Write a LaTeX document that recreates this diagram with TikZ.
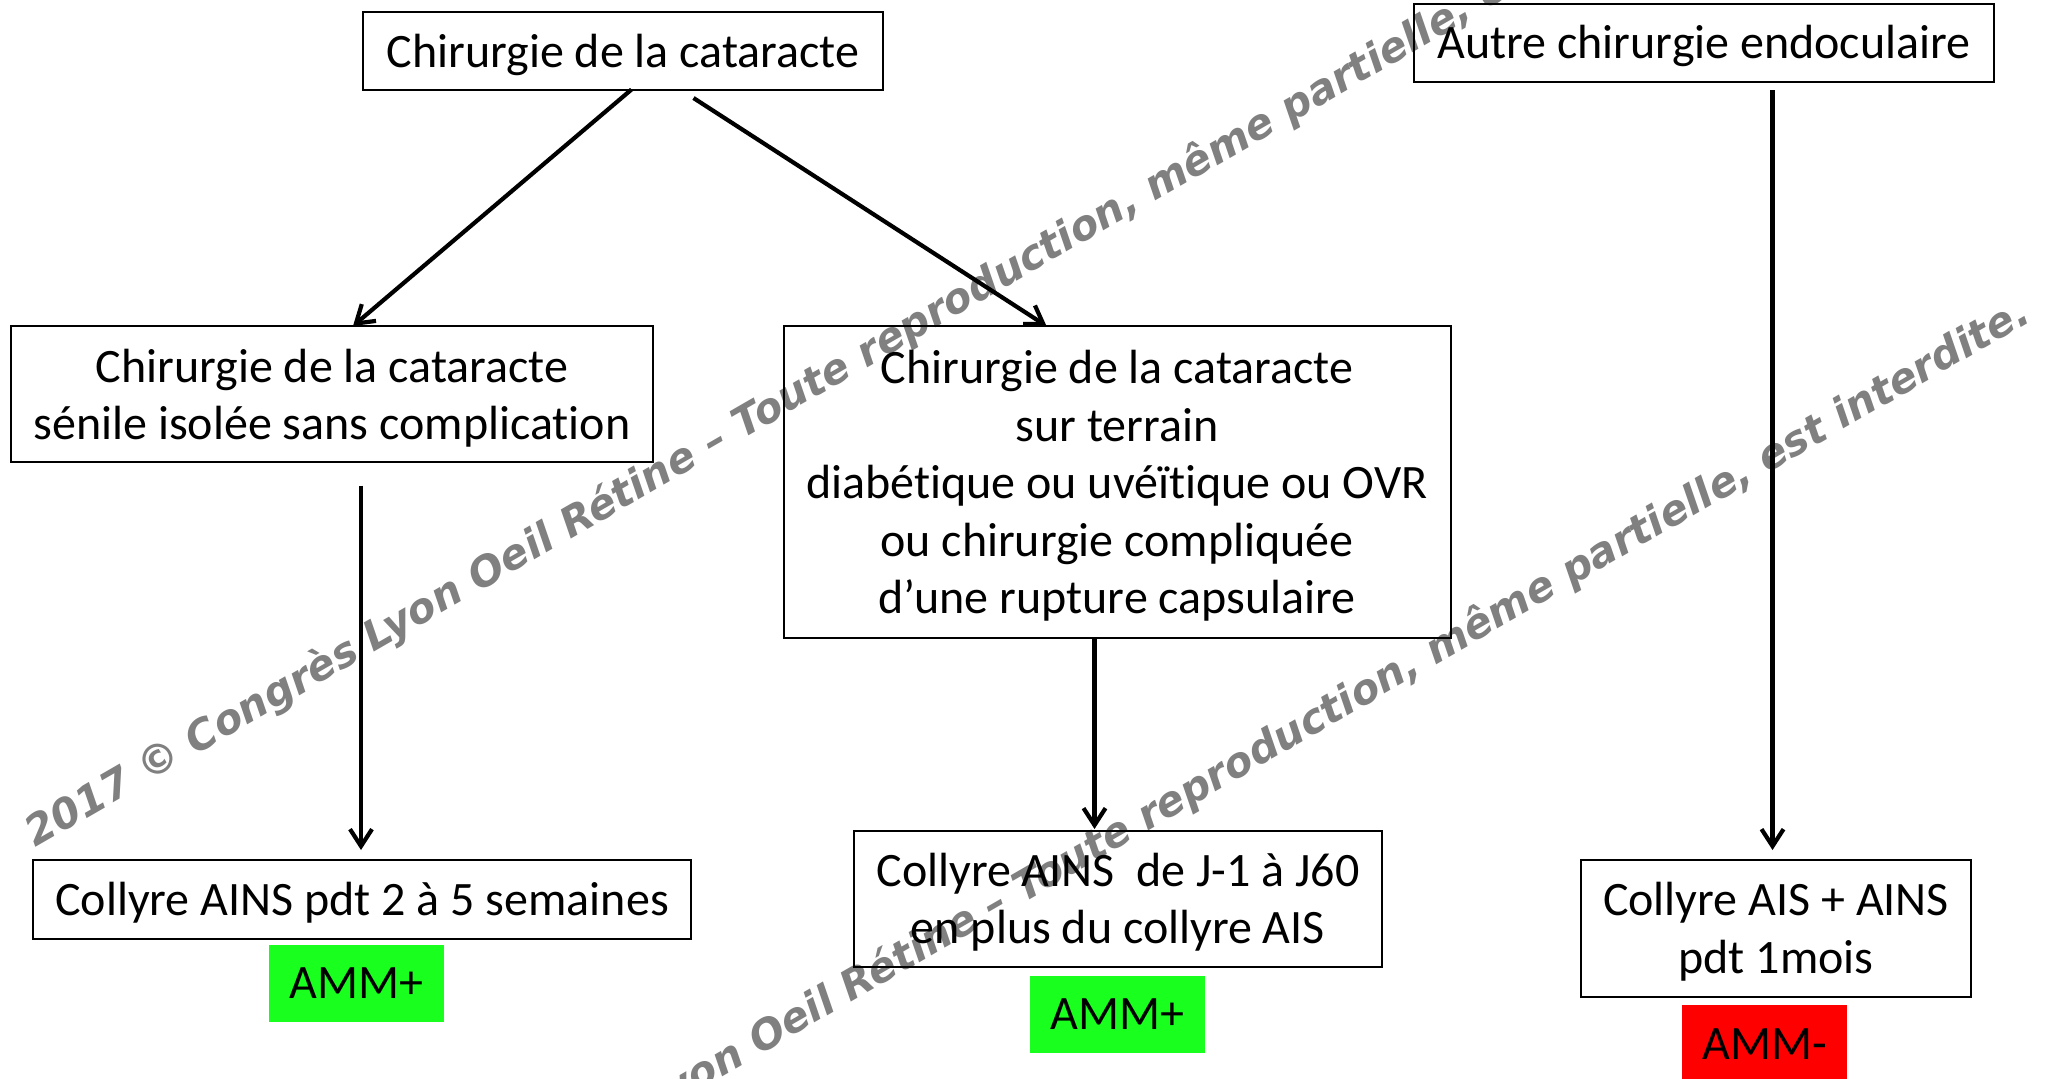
\documentclass[tikz,border=0pt]{standalone}
\usepackage{fontspec}
\setmainfont{Carlito}[Ligatures=NoCommon]
\newfontfamily\wmfont{DejaVu Sans}
\usetikzlibrary{arrows.meta,calc}
\definecolor{ammgreen}{RGB}{25,255,30}
\definecolor{ammred}{RGB}{255,0,0}
\definecolor{wmgray}{RGB}{128,128,128}
\tikzset{
  box/.style={draw=black, line width=1pt, inner sep=0pt, outer sep=0pt},
  lbl/.style={inner sep=0pt, outer sep=0pt, align=center,
    font=\fontsize{24pt}{28.75pt}\selectfont},
  tag/.style={inner sep=0pt, outer sep=0pt, font=\fontsize{24pt}{28.75pt}\selectfont},
  conn/.style={line width=2.1pt, -{Straight Barb[length=8.5pt,width=11pt]}},
  wm/.style={text=wmgray, font=\wmfont\bfseries\itshape\fontsize{20.7pt}{24pt}\selectfont,
    rotate=30, inner sep=0pt}
}
\begin{document}
\begin{tikzpicture}[x=0.5pt,y=-0.5pt]
  \fill[white] (0,0) rectangle (2048,1078);
  \clip (0,0) rectangle (2048,1078);
  % watermarks
  \node[wm, anchor=base west] (wm1) at (35,848)
    {2017 © Congrès Lyon Oeil Rétine – Toute reproduction, même partielle, est interdite.};
  \node[wm, anchor=base east] (wm2) at (2033,320)
    {2017 © Congrès Lyon Oeil Rétine – Toute reproduction, même partielle, est interdite.};
  % boxes
  \node[box, minimum width=260pt, minimum height=39pt] (top) at (623,50.5) {};
  \node[lbl] (top-t) at ($(top)+(0,4)$) {Chirurgie de la cataracte};
  \node[box, minimum width=290pt, minimum height=39pt] (autre) at (1704,43) {};
  \node[lbl] (autre-t) at ($(autre)+(0,3)$) {Autre chirurgie endoculaire};
  \node[box, minimum width=321pt, minimum height=68pt] (lm) at (332,394) {};
  \node[lbl] (lm-t) at ($(lm)+(0,4)$) {Chirurgie de la cataracte\\sénile isolée sans complication};
  \node[box, minimum width=333.5pt, minimum height=156pt] (mid) at (1117,482) {};
  \node[lbl] (mid-t) at ($(mid)+(0,4)$)
    {Chirurgie de la cataracte\\sur terrain\\diabétique ou uvéïtique ou OVR\\ou chirurgie compliquée\\d’une rupture capsulaire};
  \node[box, minimum width=329pt, minimum height=39.5pt] (bl) at (362,899.5) {};
  \node[lbl] (bl-t) at ($(bl)+(0,3)$) {Collyre AINS pdt 2 à 5 semaines};
  \node[box, minimum width=264pt, minimum height=68pt] (bm) at (1118,899) {};
  \node[lbl] (bm-t) at ($(bm)+(0,3)$) {Collyre AINS\ \ de J-1 à J60\\en plus du collyre AIS};
  \node[box, minimum width=195pt, minimum height=68.5pt] (br) at (1776,928.5) {};
  \node[lbl] (br-t) at ($(br)+(0,3)$) {Collyre AIS + AINS\\pdt 1mois};
  % tags
  \node[tag, fill=ammgreen, minimum width=87.5pt, minimum height=38.5pt] (g1) at (356.5,983) {AMM+};
  \node[tag, fill=ammgreen, minimum width=87.5pt, minimum height=38.5pt] (g2) at (1117.5,1014.5) {AMM+};
  \node[tag, fill=ammred, minimum width=82.5pt, minimum height=39pt] (r1) at (1764.5,1044) {AMM-};
  % connectors
  \draw[conn] ($(top.south)+(8.5,0)$) -- ($(lm.north)+(21,0)$);
  \draw[conn] ($(top.south)+(70.5,8.5)$) -- ($(mid.north)+(-70.5,0)$);
  \draw[conn] ($(lm.south)+(29,23.5)$) -- ($(bl.north)+(-1,-10)$);
  \draw[conn] ($(mid.south)+(-22.5,0)$) -- ($(bm.north)+(-23.5,-2)$);
  \draw[conn] ($(autre.south)+(68.5,8)$) -- ($(br.north)+(-3.5,-10)$);
\end{tikzpicture}
\end{document}
